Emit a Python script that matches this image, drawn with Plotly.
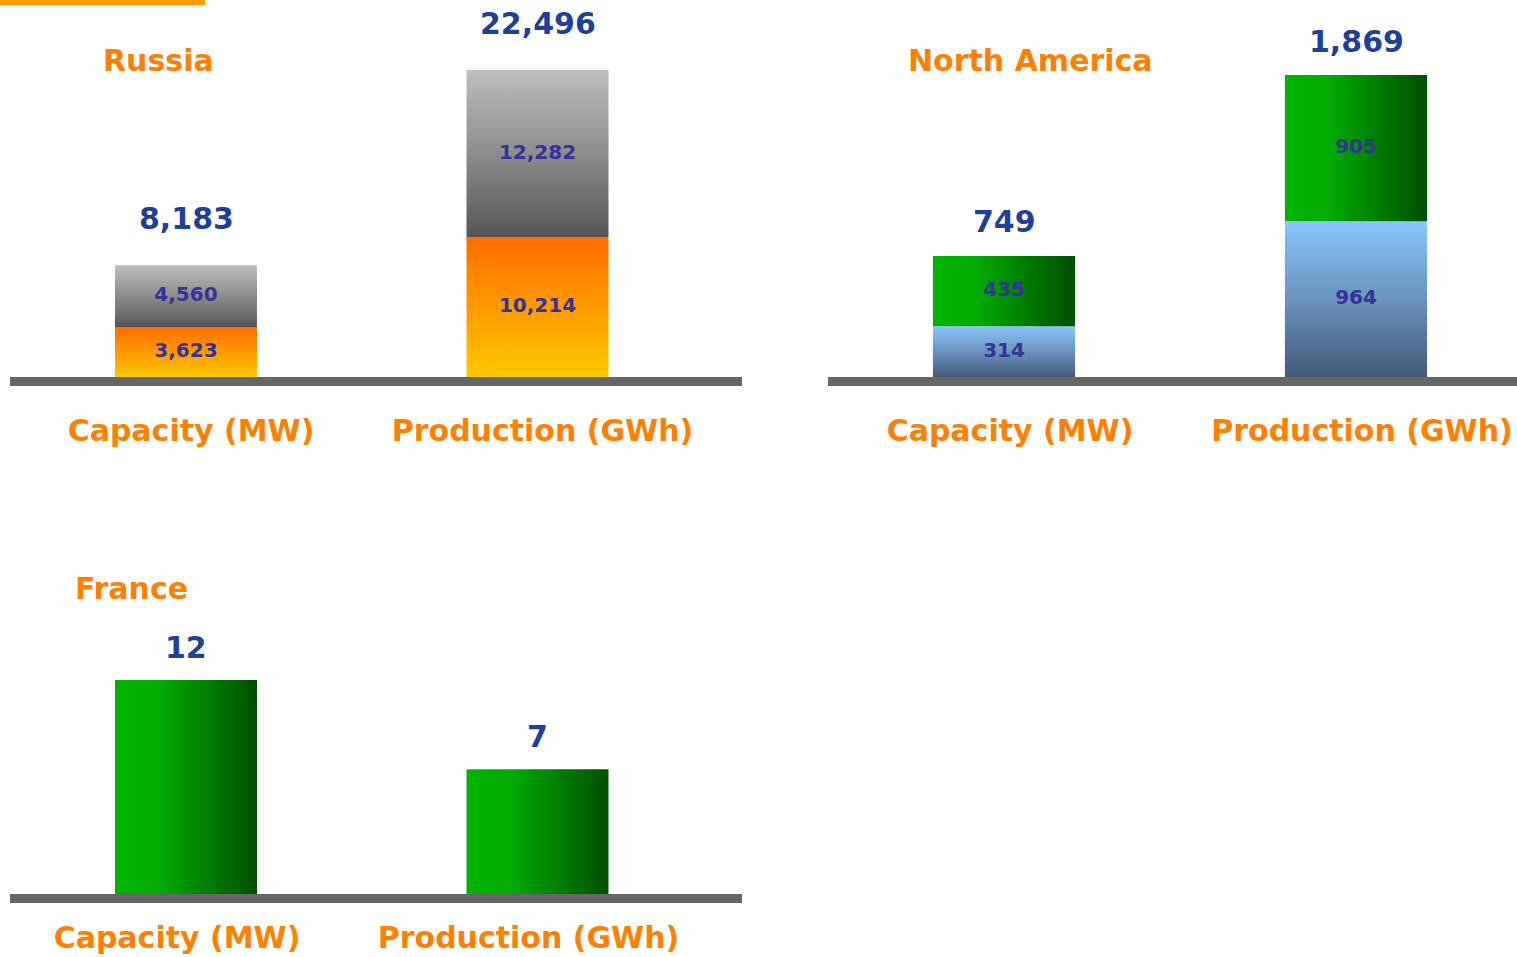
import plotly.graph_objects as go

# ---- data -------------------------------------------------------------
categories = ["Capacity (MW)", "Production (GWh)"]

russia_lower = [3623, 10214]
russia_upper = [4560, 12282]
russia_total = [8183, 22496]

na_lower = [314, 964]
na_upper = [435, 905]
na_total = [749, 1869]

france_values = [12, 7]

# ---- styling ----------------------------------------------------------
W, H = 1517, 957
FONT = "DejaVu Sans"
ORANGE_TXT = "#FF8000"
TOTAL_TXT = "#1F3F99"
SEG_TXT = "#333399"

ORANGE = dict(type="vertical", colorscale=[[0, "#FFC800"], [0.5, "#FF9A00"], [1, "#FF6E00"]])
GRAY = dict(type="vertical", colorscale=[[0, "#555555"], [0.5, "#8C8C8C"], [1, "#BEBEBE"]])
GREEN = dict(type="horizontal", colorscale=[[0, "#00B400"], [0.3, "#00AD00"], [1, "#004E00"]])
BLUE = dict(type="vertical", colorscale=[[0, "#425A78"], [0.5, "#6A93BC"], [1, "#8AC6FF"]])

BAR_W = 0.404

fig = go.Figure()


def px_x(p):
    return p / W


def px_y(p):
    return 1 - p / H


def setup_axes(n, left, right, c0, unit, bottom, dom_top, ref_px, ref_val,
               shift, standoff):
    """Place a panel: category 0 centred at pixel c0, categories `unit` px apart,
    value 0 at pixel row `bottom` and ref_val at pixel row ref_px."""
    sfx = "" if n == 1 else str(n)
    ymax = ref_val * (bottom - dom_top) / (bottom - ref_px)
    fig.layout["xaxis" + sfx] = dict(
        domain=[px_x(left), px_x(right)],
        range=[-(c0 - left) / unit, (right - c0) / unit],
        anchor="y" + sfx,
        tickvals=[0, 1], ticktext=categories,
        tickfont=dict(family=FONT, size=30, color=ORANGE_TXT, weight="bold"),
        ticks="", showgrid=False, zeroline=False,
        showline=True, linecolor="#666666", linewidth=9,
        ticklabelstandoff=standoff, ticklabelshift=shift,
        automargin=False, fixedrange=True,
    )
    fig.layout["yaxis" + sfx] = dict(
        domain=[px_y(bottom), px_y(dom_top)],
        range=[0, ymax], anchor="x" + sfx,
        visible=False, automargin=False, fixedrange=True,
    )
    return "x" + sfx, "y" + sfx


def add_segment(xa, ya, xc, base, value, grad):
    x0, x1 = xc - BAR_W / 2, xc + BAR_W / 2
    y0, y1 = base, base + value
    fig.add_trace(go.Scatter(
        x=[x0, x1, x1, x0, x0], y=[y0, y0, y1, y1, y0],
        xaxis=xa, yaxis=ya, mode="lines", line=dict(width=0),
        fill="toself", fillgradient=grad,
        hoverinfo="skip", showlegend=False,
    ))


def add_segment_labels(xa, ya, bases, values):
    fig.add_trace(go.Scatter(
        x=list(range(len(values))),
        y=[b + v / 2 for b, v in zip(bases, values)],
        text=[f"{v:,}" for v in values],
        mode="text", xaxis=xa, yaxis=ya,
        textfont=dict(family=FONT, size=20, color=SEG_TXT, weight="bold"),
        hoverinfo="skip", showlegend=False,
    ))


def add_totals(xa, ya, totals, gap):
    for i, t in enumerate(totals):
        fig.add_annotation(
            x=i, y=t, xref=xa, yref=ya, text=f"{t:,}", showarrow=False,
            yanchor="middle", yshift=gap,
            font=dict(family=FONT, size=30, color=TOTAL_TXT, weight="bold"),
        )


def add_title(text, cx, cy):
    fig.add_annotation(
        x=px_x(cx), y=px_y(cy), xref="paper", yref="paper", text=text,
        showarrow=False, xanchor="center", yanchor="middle",
        font=dict(family=FONT, size=30, color=ORANGE_TXT, weight="bold"),
    )


# ---- Russia -------------------------------------------------------------
xa, ya = setup_axes(1, 10, 742, 186, 351.5, 377, 0, 70, max(russia_total), 5, 19)
for i in range(len(categories)):
    add_segment(xa, ya, i, 0, russia_lower[i], ORANGE)
    add_segment(xa, ya, i, russia_lower[i], russia_upper[i], GRAY)
add_segment_labels(xa, ya, [0, 0], russia_lower)
add_segment_labels(xa, ya, russia_lower, russia_upper)
add_totals(xa, ya, russia_total, 47)
add_title("Russia", 158, 61)

# ---- North America ------------------------------------------------------
xa, ya = setup_axes(2, 828, 1517, 1004, 352, 377, 0, 75, max(na_total), 6, 19)
for i in range(len(categories)):
    add_segment(xa, ya, i, 0, na_lower[i], BLUE)
    add_segment(xa, ya, i, na_lower[i], na_upper[i], GREEN)
add_segment_labels(xa, ya, [0, 0], na_lower)
add_segment_labels(xa, ya, na_lower, na_upper)
add_totals(xa, ya, na_total, 34)
add_title("North America", 1030, 61)

# ---- France -------------------------------------------------------------
xa, ya = setup_axes(3, 10, 742, 186, 351.5, 894, 470, 680, max(france_values), -9, 9)
for i in range(len(categories)):
    add_segment(xa, ya, i, 0, france_values[i], GREEN)
add_totals(xa, ya, france_values, 33)
add_title("France", 131, 588)

# accent strip in the top-left corner
fig.add_shape(type="rect", xref="paper", yref="paper",
              x0=0, x1=px_x(205), y0=px_y(5), y1=1,
              fillcolor="#FF9900", line=dict(width=0), layer="above")

fig.update_layout(
    width=W, height=H, autosize=False,
    margin=dict(l=0, r=0, t=0, b=0, autoexpand=False),
    paper_bgcolor="white", plot_bgcolor="white",
    showlegend=False,
)

fig.write_html("out.html")
